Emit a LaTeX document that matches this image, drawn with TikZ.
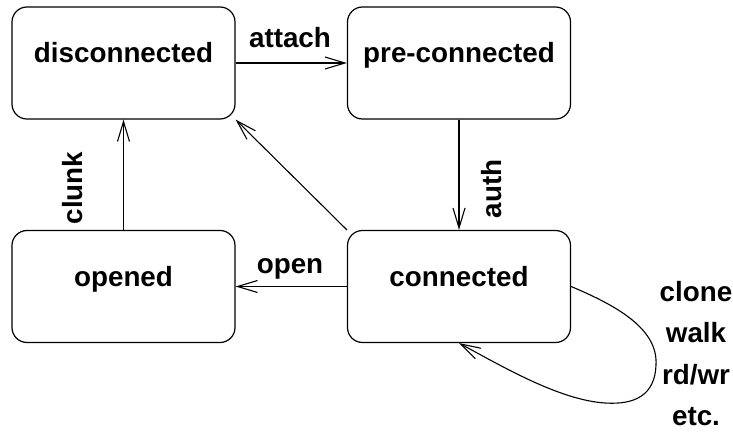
\documentclass[tikz,border=0pt]{standalone}
\usepackage{fontspec}
\setmainfont{Liberation Sans}
\usetikzlibrary{arrows.meta}
\begin{document}
\begin{tikzpicture}[x=1pt,y=-1pt,
  every node/.style={font=\bfseries\fontsize{27.8pt}{33pt}\selectfont},
  state/.style={draw,line width=1.2pt,rounded corners=15pt,minimum width=223pt,minimum height=112pt,inner sep=0pt,text height=20pt,text depth=20pt},
  conn/.style={line width=1.1pt,-{Straight Barb[length=20pt,width=12pt]}},
  lbl/.style={inner sep=0pt,anchor=base}
]
\useasboundingbox (0,0) rectangle (733,433);
\node[state] (dis) at (123.5,63) {disconnected};
\node[state] (pre) at (459,63) {pre-connected};
\node[state] (con) at (459,286.5) {connected};
\node[state] (ope) at (123.5,286.5) {opened};

\draw[conn] (dis.east) -- (pre.west);
\node[lbl] (lattach) at (290,48) {attach};
\draw[conn] (pre.south) -- (con.north);
\node[lbl,rotate=90] (lauth) at (501,189) {auth};
\draw[conn] (con.west) -- (ope.east);
\node[lbl] (lopen) at (290,273) {open};
\draw[conn] (ope.north) -- (dis.south);
\node[lbl,rotate=90] (lclunk) at (82,188) {clunk};
\draw[conn] (con.north west) -- (dis.south east);
\draw[conn] (con.east) .. controls (620,307) and (658,330) .. (656,365)
  .. controls (655,395) and (635,405) .. (605,403)
  .. controls (560,400) and (505,368) .. (con.south);
\node[lbl] (lclone) at (696,301) {clone};
\node[lbl] (lwalk) at (696,342) {walk};
\node[lbl] (lrdwr) at (696,384) {rd/wr};
\node[lbl] (letc) at (696,425) {etc.};
\end{tikzpicture}
\end{document}
